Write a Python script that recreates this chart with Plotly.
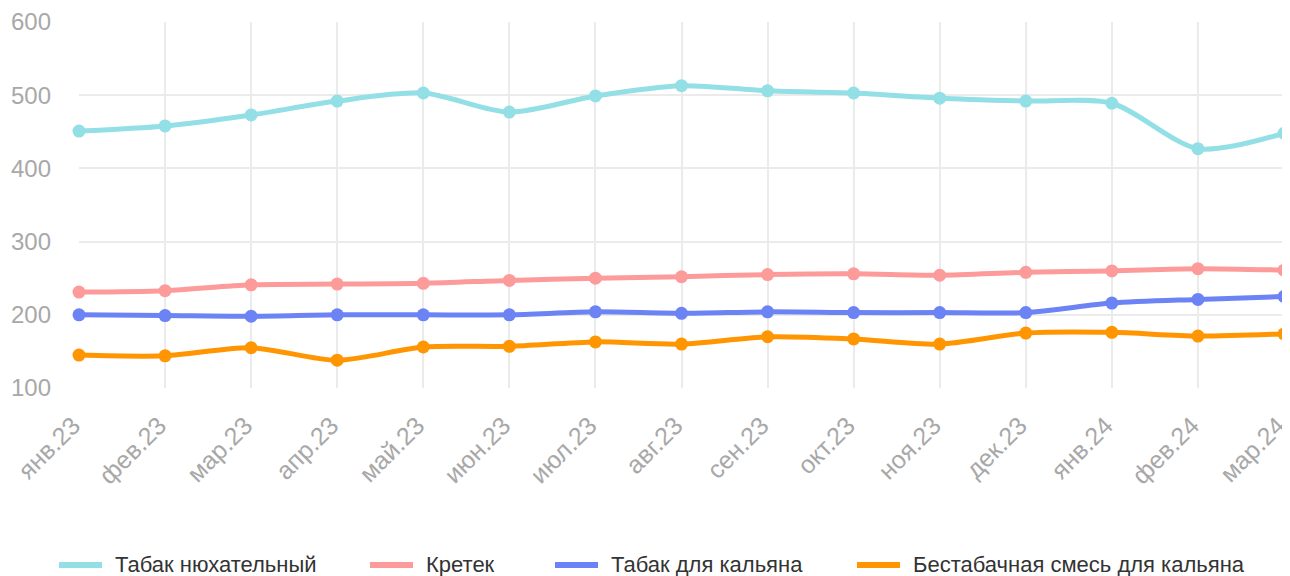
import plotly.graph_objects as go

months = ["янв.23", "фев.23", "мар.23", "апр.23", "май.23", "июн.23", "июл.23",
          "авг.23", "сен.23", "окт.23", "ноя.23", "дек.23", "янв.24", "фев.24", "мар.24"]

snuff = [451, 458, 473, 492, 503, 477, 499, 513, 506, 503, 496, 492, 489, 427, 448]
kretek = [231, 233, 241, 242, 243, 247, 250, 252, 255, 256, 254, 258, 260, 263, 261]
hookah = [200, 199, 198, 200, 200, 200, 204, 202, 204, 203, 203, 203, 216, 221, 225]
herbal = [145, 144, 155, 138, 156, 157, 163, 160, 170, 167, 160, 175, 176, 171, 174]

names = ["Табак нюхательный", "Кретек", "Табак для кальяна", "Бестабачная смесь для кальяна"]
colors = ["#93dfe6", "#fd9b9b", "#6c83f5", "#ff9500"]

# figure geometry (page body adds an 8px offset)
W, H = 1282, 568
L, R, T, B = 71, 6, 14, 188
pw, ph = W - L - R, H - T - B


def px_x(x):
    return (x - L) / pw


def px_y(y):
    return (H - B - y) / ph


fig = go.Figure()
for name, vals, c in zip(names, [snuff, kretek, hookah, herbal], colors):
    fig.add_trace(go.Scatter(
        x=months, y=vals, name=name, mode="lines+markers",
        line=dict(color=c, width=5, shape="spline", smoothing=0.8),
        marker=dict(color=c, size=13),
        cliponaxis=False, showlegend=False,
    ))

# legend drawn by hand: thick bar + label
leg_sym = [51, 362, 547, 849]
leg_y = 556
for name, c, sx in zip(names, colors, leg_sym):
    fig.add_shape(type="line", xref="paper", yref="paper",
                  x0=px_x(sx), x1=px_x(sx + 43), y0=px_y(leg_y + 1), y1=px_y(leg_y + 1),
                  line=dict(color=c, width=6))
    fig.add_annotation(text=name, xref="paper", yref="paper",
                       x=px_x(sx + 54), y=px_y(leg_y), xanchor="left", yanchor="middle",
                       height=24, valign="middle",
                       showarrow=False, font=dict(size=22, color="#333"))

fig.update_layout(
    width=W, height=H,
    paper_bgcolor="white", plot_bgcolor="white",
    font=dict(family="Liberation Sans, Arial, sans-serif", color="#333"),
    margin=dict(l=L, r=R, t=T, b=B, autoexpand=False),
    showlegend=False,
)
fig.update_xaxes(
    type="category", range=[0, 14], showgrid=True, gridcolor="#ebebeb", gridwidth=1.5,
    zeroline=False, showline=False, tickangle=-45, automargin=False,
    tickfont=dict(size=25, color="#a8a8a8"), ticks="", ticklabelstandoff=17,
    ticklabelshift=-6,
)
fig.update_yaxes(
    range=[100, 600], dtick=100, showgrid=True, gridcolor="#ebebeb", gridwidth=1.5,
    zeroline=False, showline=False, tickfont=dict(size=24, color="#a8a8a8"),
    ticks="", ticklabelstandoff=27, automargin=False,
)
# right border gridline
fig.add_shape(type="line", xref="paper", yref="paper", x0=1, x1=1, y0=0, y1=1,
              line=dict(color="#ebebeb", width=1.5), layer="below")

fig.write_html("out.html")
